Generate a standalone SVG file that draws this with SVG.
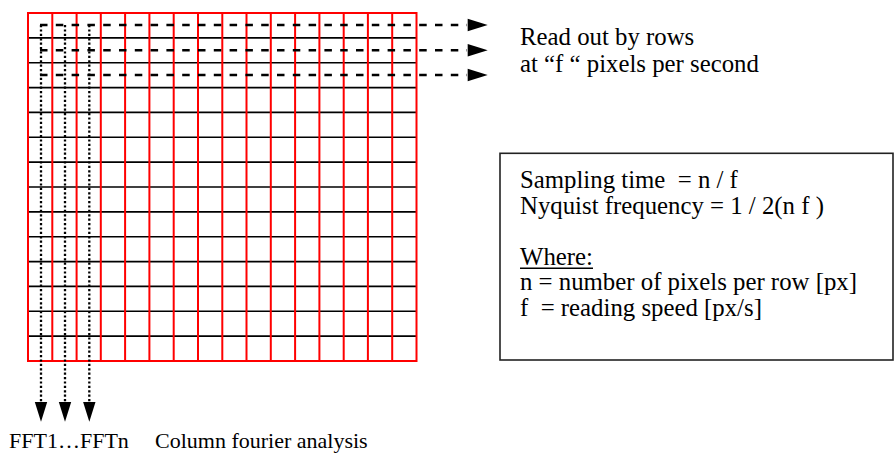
<svg xmlns="http://www.w3.org/2000/svg" width="895" height="454" viewBox="0 0 895 454">
<style>
.hl{stroke:#000;stroke-width:1.6;fill:none}
.vl{stroke:#ff0000;stroke-width:2;fill:none}
.dash{stroke:#000;stroke-width:2.6;stroke-dasharray:7.5 8.3;fill:none}
.dot{stroke:#000;stroke-width:2.3;stroke-dasharray:2.2 2.2;fill:none}
.head{fill:#000}
.t{font-family:"Liberation Serif","Times New Roman",serif;font-size:24.8px;fill:#000}
.tb{font-family:"Liberation Serif","Times New Roman",serif;font-size:22px;fill:#000}
</style>
<rect width="895" height="454" fill="#fff"/>
<g id="grid">
<g id="rows">
<line class="hl" x1="28" y1="37.9" x2="416.5" y2="37.9"/>
<line class="hl" x1="28" y1="62.7" x2="416.5" y2="62.7"/>
<line class="hl" x1="28" y1="87.6" x2="416.5" y2="87.6"/>
<line class="hl" x1="28" y1="112.4" x2="416.5" y2="112.4"/>
<line class="hl" x1="28" y1="137.3" x2="416.5" y2="137.3"/>
<line class="hl" x1="28" y1="162.1" x2="416.5" y2="162.1"/>
<line class="hl" x1="28" y1="187" x2="416.5" y2="187"/>
<line class="hl" x1="28" y1="211.9" x2="416.5" y2="211.9"/>
<line class="hl" x1="28" y1="236.7" x2="416.5" y2="236.7"/>
<line class="hl" x1="28" y1="261.6" x2="416.5" y2="261.6"/>
<line class="hl" x1="28" y1="286.4" x2="416.5" y2="286.4"/>
<line class="hl" x1="28" y1="311.3" x2="416.5" y2="311.3"/>
<line class="hl" x1="28" y1="336.1" x2="416.5" y2="336.1"/>
</g>
<g id="columns">
<line class="vl" x1="52.3" y1="13" x2="52.3" y2="361"/>
<line class="vl" x1="76.6" y1="13" x2="76.6" y2="361"/>
<line class="vl" x1="100.8" y1="13" x2="100.8" y2="361"/>
<line class="vl" x1="125.1" y1="13" x2="125.1" y2="361"/>
<line class="vl" x1="149.4" y1="13" x2="149.4" y2="361"/>
<line class="vl" x1="173.7" y1="13" x2="173.7" y2="361"/>
<line class="vl" x1="198" y1="13" x2="198" y2="361"/>
<line class="vl" x1="222.3" y1="13" x2="222.3" y2="361"/>
<line class="vl" x1="246.5" y1="13" x2="246.5" y2="361"/>
<line class="vl" x1="270.8" y1="13" x2="270.8" y2="361"/>
<line class="vl" x1="295.1" y1="13" x2="295.1" y2="361"/>
<line class="vl" x1="319.4" y1="13" x2="319.4" y2="361"/>
<line class="vl" x1="343.7" y1="13" x2="343.7" y2="361"/>
<line class="vl" x1="367.9" y1="13" x2="367.9" y2="361"/>
<line class="vl" x1="392.2" y1="13" x2="392.2" y2="361"/>
</g>
<rect class="vl" x="28" y="13" width="388.5" height="348"/>
</g>
<g id="connectors">
<line class="dash" x1="40" y1="25" x2="467" y2="25"/>
<line class="dash" x1="40" y1="50.3" x2="467" y2="50.3"/>
<line class="dash" x1="40" y1="75" x2="467" y2="75"/>
<polygon class="head" points="467.7,18.8 487.7,25 467.7,31.2"/>
<polygon class="head" points="467.7,44.1 487.7,50.3 467.7,56.5"/>
<polygon class="head" points="467.7,68.8 487.7,75 467.7,81.2"/>
<line class="dot" x1="41" y1="25" x2="41" y2="402"/>
<line class="dot" x1="65" y1="25" x2="65" y2="402"/>
<line class="dot" x1="89.3" y1="25" x2="89.3" y2="402"/>
<polygon class="head" points="34.8,402 47.2,402 41,421.7"/>
<polygon class="head" points="58.8,402 71.2,402 65,421.7"/>
<polygon class="head" points="83.1,402 95.5,402 89.3,421.7"/>
</g>
<g id="readout-label">
<text class="t" x="520" y="45">Read out by rows</text>
<text class="t" x="520" y="72">at “f “ pixels per second</text>
</g>
<g id="formula-box">
<rect x="500" y="153.3" width="393" height="206.7" fill="#fff" stroke="#222" stroke-width="1.6"/>
<text class="t" x="520" y="188" xml:space="preserve">Sampling time  = n / f</text>
<text class="t" x="520" y="213.5">Nyquist frequency = 1 / 2(n f )</text>
<text class="t" x="520" y="264.5">Where:</text>
<line x1="520" y1="268.3" x2="593" y2="268.3" stroke="#000" stroke-width="1.4"/>
<text class="t" x="520" y="290">n = number of pixels per row [px]</text>
<text class="t" x="520" y="315.5" xml:space="preserve">f  = reading speed [px/s]</text>
</g>
<g id="fft-label">
<text class="tb" x="9" y="448">FFT1…FFTn</text>
<text class="tb" x="155" y="448">Column fourier analysis</text>
</g>
</svg>
